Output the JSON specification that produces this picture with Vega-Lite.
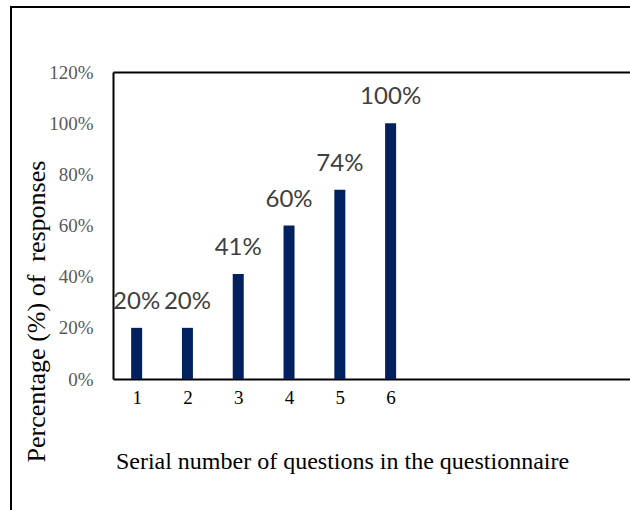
{
  "$schema": "https://vega.github.io/schema/vega-lite/v6.json",
  "width": 630,
  "height": 510,
  "autosize": {"type": "none"},
  "padding": {"left": 11, "top": 7, "right": 0, "bottom": 0},
  "background": "white",
  "config": {
    "view": {"stroke": "#000", "strokeWidth": 2},
    "axis": {"grid": false, "ticks": false, "domainColor": "#000", "domainWidth": 2}
  },
  "data": {
    "values": [
      {"q": 1, "pct": 0.20},
      {"q": 2, "pct": 0.20},
      {"q": 3, "pct": 0.41},
      {"q": 4, "pct": 0.60},
      {"q": 5, "pct": 0.74},
      {"q": 6, "pct": 1.00}
    ]
  },
  "resolve": {"axis": {"x": "independent"}},
  "layer": [
    {
      "mark": {"type": "bar", "size": 11, "color": "#002060"},
      "encoding": {
        "x": {
          "field": "q", "type": "quantitative",
          "scale": {"domain": [0.633, 10.614], "range": [102, 619], "nice": false, "zero": false},
          "axis": {
            "orient": "bottom", "offset": -138, "values": [1, 2, 3, 4, 5, 6], "format": "d",
            "labelFont": "Liberation Serif", "labelFontSize": 19, "labelColor": "#000",
            "labelPadding": 9, "labelBaseline": "top",
            "title": "Serial number of questions in the questionnaire",
            "titleFont": "Liberation Serif", "titleFontSize": 24, "titleFontWeight": "normal", "titleColor": "#000",
            "titleX": 331, "titleY": 89, "titleAlign": "center", "titleBaseline": "alphabetic", "titleAnchor": null
          }
        },
        "y": {
          "field": "pct", "type": "quantitative",
          "scale": {"domain": [0, 1.2], "range": [372, 65], "nice": false},
          "axis": {
            "orient": "left", "offset": -102, "values": [0, 0.2, 0.4, 0.6, 0.8, 1.0, 1.2], "format": ".0%",
            "labelFont": "Liberation Serif", "labelFontSize": 19, "labelColor": "#595959",
            "labelPadding": 20,
            "title": "Percentage (%) of\u00a0 responses",
            "titleFont": "Liberation Serif", "titleFontSize": 26, "titleFontWeight": "normal", "titleColor": "#000",
            "titleX": -77, "titleY": 304, "titleAngle": -90, "titleAlign": "center", "titleBaseline": "middle", "titleAnchor": null
          }
        }
      }
    },
    {
      "mark": {"type": "text", "baseline": "alphabetic", "dy": -19, "font": "Lato", "fontSize": 24, "color": "#404040"},
      "encoding": {
        "x": {
          "field": "q", "type": "quantitative",
          "axis": {"orient": "top", "offset": -65, "labels": false, "title": null, "domainColor": "#000", "domainWidth": 2}
        },
        "y": {"field": "pct", "type": "quantitative"},
        "text": {"field": "pct", "type": "quantitative", "format": ".0%"}
      }
    }
  ]
}
